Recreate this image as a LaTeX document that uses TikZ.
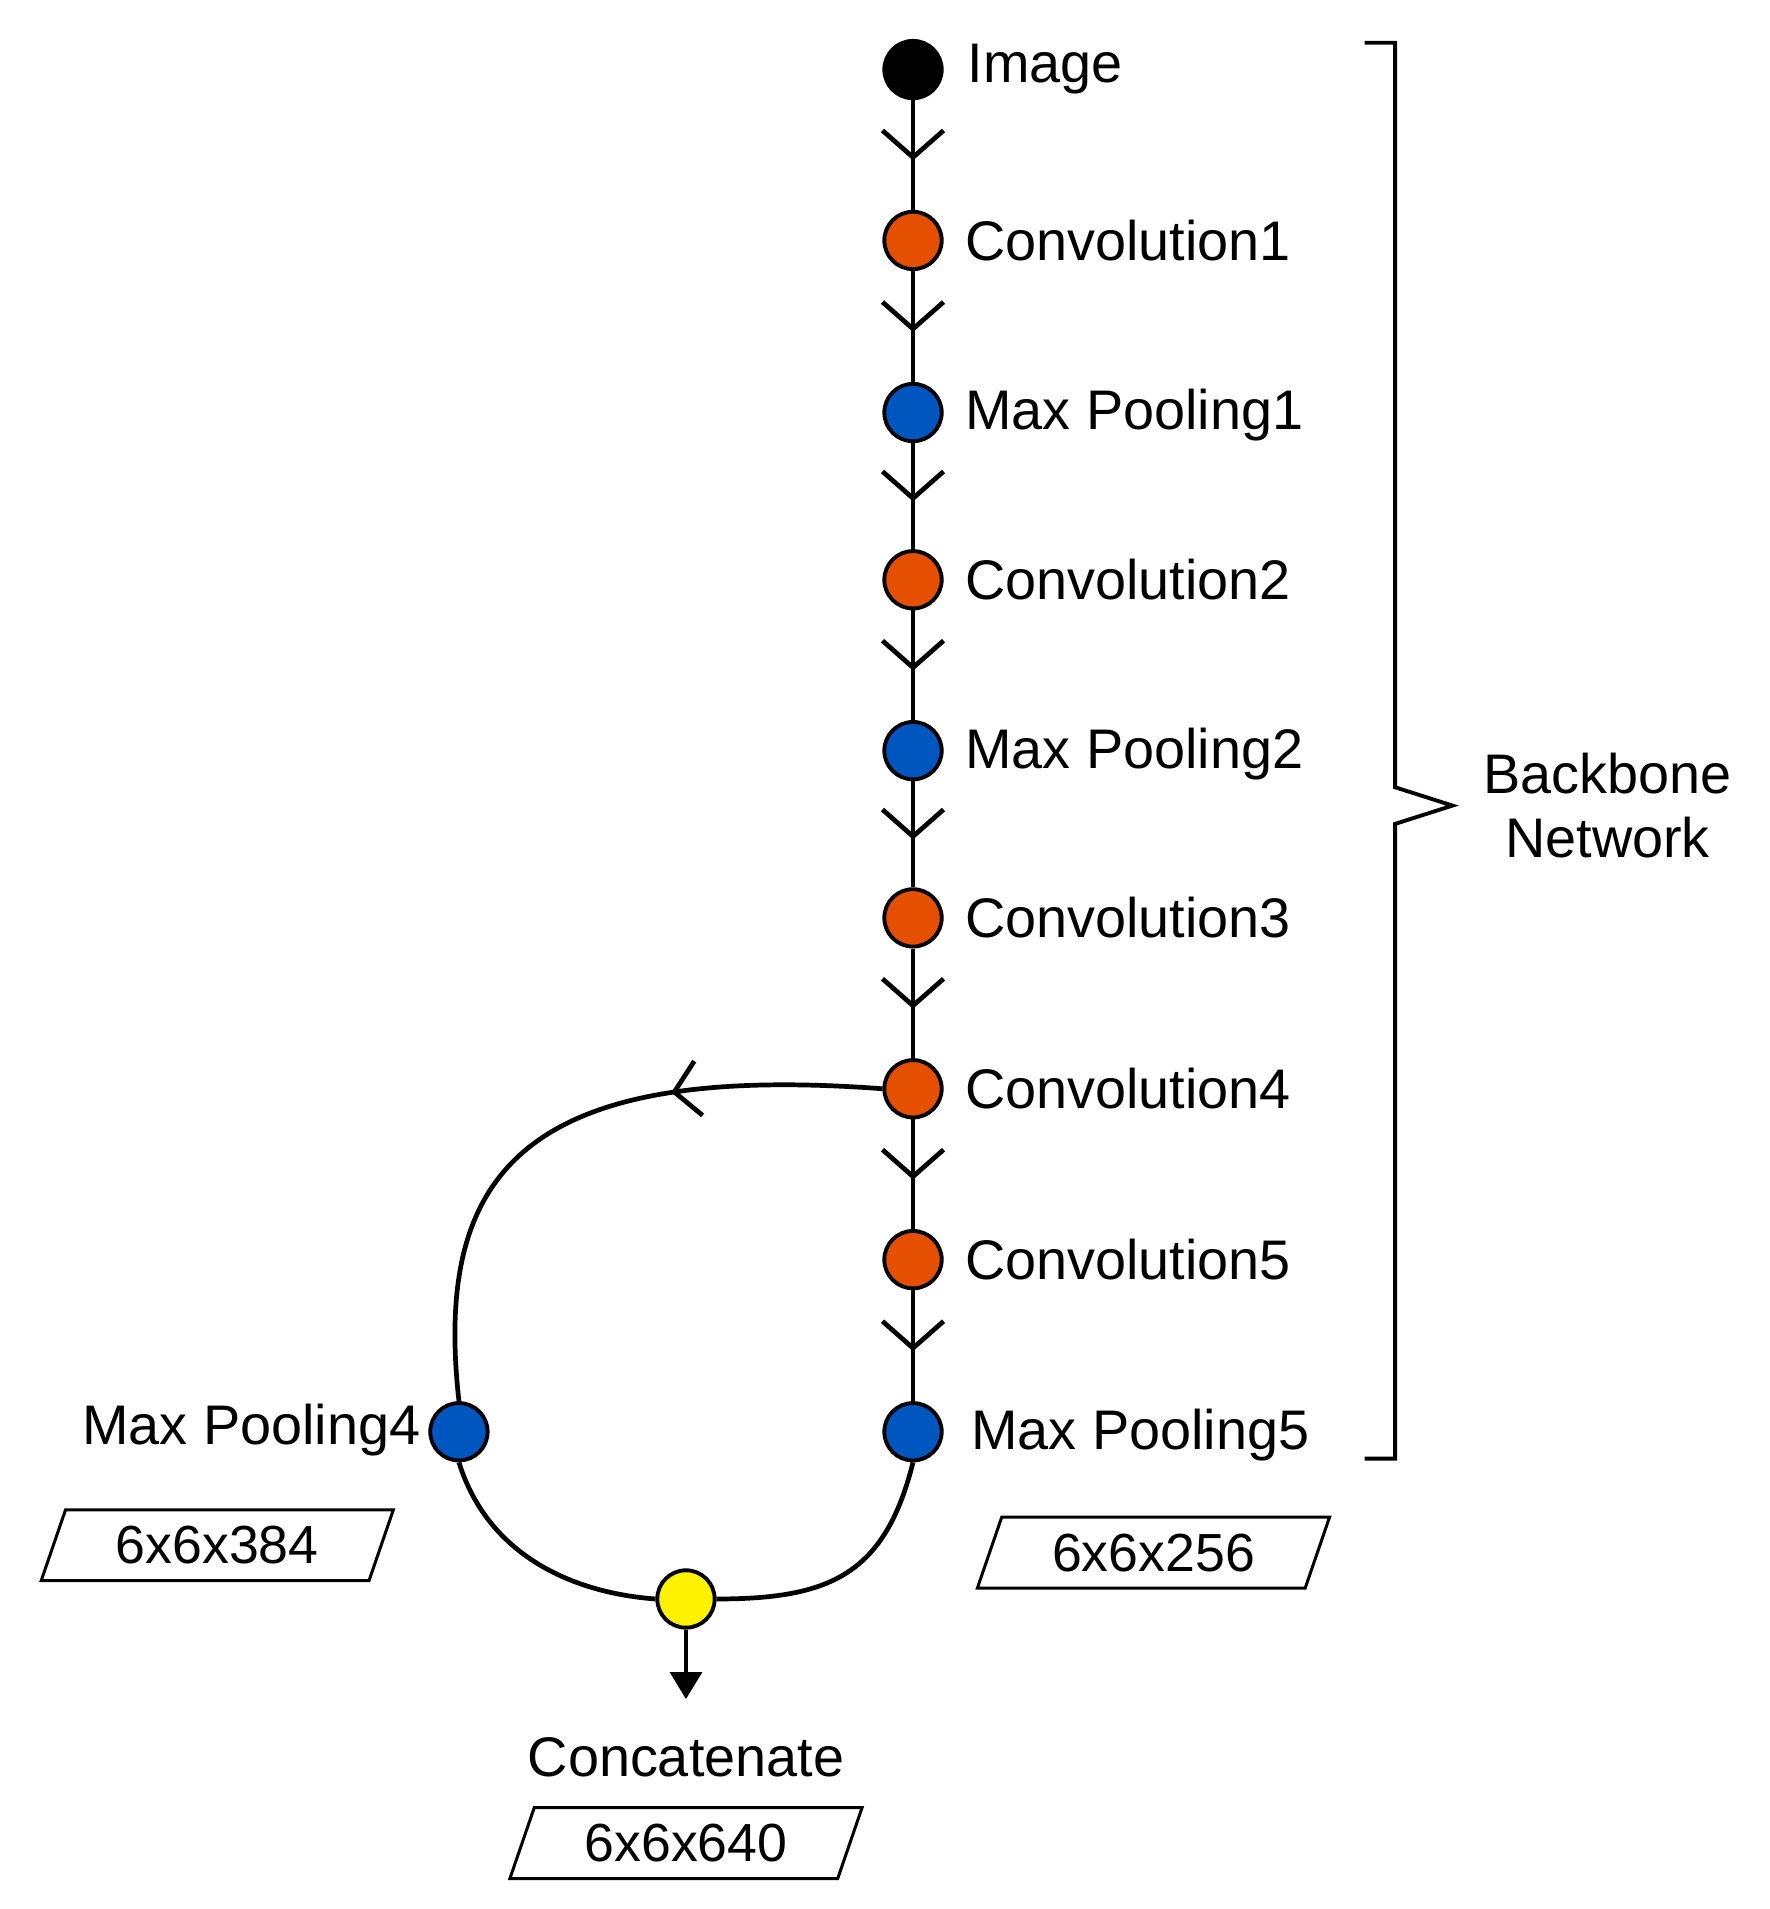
\documentclass[tikz,border=0pt]{standalone}
\usepackage{fontspec}
\setmainfont{Liberation Sans}
\usetikzlibrary{arrows.meta,decorations.markings,shapes.geometric}
\begin{document}
\begin{tikzpicture}[x=0.01cm,y=-0.01cm,
  dot/.style={circle,draw=black,line width=0.9pt,minimum size=0.47cm,inner sep=0pt},
  conv/.style={dot,fill=orange!70!red!90!black},
  pool/.style={dot,fill=blue!55!cyan!75!black},
  lab/.style={font=\fontsize{13}{15}\selectfont,anchor=west,inner sep=0pt},
  box/.style={trapezium,trapezium left angle=70,trapezium right angle=110,draw,line width=0.7pt,
     minimum width=2.9cm,minimum height=0.58cm,trapezium stretches=true,font=\fontsize{12.5}{14}\selectfont,inner sep=1pt},
  flow/.style={line width=1.1pt,postaction={decorate},decoration={markings,
     mark=at position 0.55 with {\arrow{Straight Barb[length=0.22cm,width=0.5cm,line width=1.1pt]}}}}]
\useasboundingbox (0,0) rectangle (1450,1564);
\node[dot,fill=black] (img) at (748,57) {};
\node[conv] (c1) at (748,197) {};
\node[pool] (p1) at (748,338) {};
\node[conv] (c2) at (748,475) {};
\node[pool] (p2) at (748,615) {};
\node[conv] (c3) at (748,752) {};
\node[conv] (c4) at (748,892) {};
\node[conv] (c5) at (748,1032) {};
\node[pool] (p5) at (748,1173) {};
\node[pool] (p4) at (376,1173) {};
\node[dot,fill=yellow] (cat) at (562,1310) {};
\coordinate (out) at (562,1392);

\node[lab] at (792,57) {Image};
\node[lab] at (790,197) {Convolution1};
\node[lab] at (790,340) {Max Pooling1};
\node[lab] at (790,475) {Convolution2};
\node[lab] at (790,618) {Max Pooling2};
\node[lab] at (790,752) {Convolution3};
\node[lab] at (790,892) {Convolution4};
\node[lab] at (790,1032) {Convolution5};
\node[lab] at (795,1176) {Max Pooling5};
\node[lab,anchor=east] at (345,1172) {Max Pooling4};
\node[font=\fontsize{13}{15}\selectfont] at (562,1440) {Concatenate};
\node[font=\fontsize{13}{15}\selectfont,align=center] at (1317,660) {Backbone\\Network};

\node[box] (b1) at (178,1266) {6x6x384};
\node[box] (b2) at (945,1272) {6x6x256};
\node[box] (b3) at (562,1510) {6x6x640};

\foreach \a/\b in {img/c1,c1/p1,p1/c2,c2/p2,p2/c3,c3/c4,c4/c5,c5/p5}
  \draw[flow] (\a) -- (\b);
\draw[line width=1.1pt,postaction={decorate},decoration={markings,
     mark=at position 0.33 with {\arrow{Straight Barb[length=0.2cm,width=0.45cm,line width=1.1pt]}}}]
  (c4.west) .. controls (430,870) and (355,960) .. (p4.north);
\draw[line width=1.1pt] (p4.south) .. controls (400,1275) and (470,1305) .. (cat.west);
\draw[line width=1.1pt] (p5.south) .. controls (725,1290) and (680,1310) .. (cat.east);
\draw[line width=0.8pt,-{Triangle[length=0.22cm,width=0.26cm]}] (cat) -- (out);

\draw[line width=0.9pt] (1118,35) -- (1143,35) -- (1143,645) -- (1190,660) -- (1143,675) -- (1143,1195) -- (1118,1195);
\end{tikzpicture}
\end{document}
